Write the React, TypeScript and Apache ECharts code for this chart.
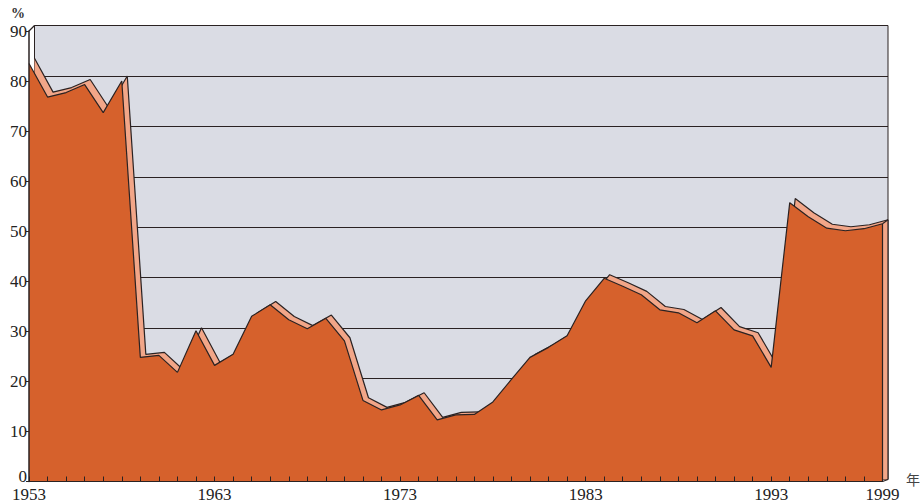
import React, { useEffect, useRef } from "react";
import * as echarts from "echarts";

const years = [
  "1953", "1954", "1955", "1956", "1957", "1958", "1959", "1960", "1961", "1962",
  "1963", "1964", "1965", "1966", "1967", "1968", "1969", "1970", "1971", "1972",
  "1973", "1974", "1975", "1976", "1977", "1978", "1979", "1980", "1981", "1982",
  "1983", "1984", "1985", "1986", "1987", "1988", "1989", "1990", "1991", "1992",
  "1993", "1994", "1995", "1996", "1997", "1998", "1999",
];

const shares = [
  83.5, 76.8, 77.7, 79.3, 73.7, 80.0, 24.8, 25.2, 21.8, 30.1,
  23.2, 25.4, 33.0, 35.3, 32.3, 30.5, 32.6, 28.1, 16.2, 14.3,
  15.3, 17.2, 12.3, 13.3, 13.4, 15.9, 20.4, 24.8, 26.8, 29.1,
  36.1, 40.6, 39.0, 37.3, 34.3, 33.7, 31.7, 34.1, 30.3, 29.1,
  22.8, 55.7, 52.9, 50.6, 50.1, 50.5, 51.5,
];

const shownYearLabels = ["1953", "1963", "1973", "1983", "1993", "1999"];
const yMin = 0;
const yMax = 90;
const yStep = 10;

const FONT = '"Liberation Serif", "DejaVu Serif", serif';
const ORANGE = "#d6612c";
const PINK = "#f2a688";
const WALL = "#dadce4";
const INK = "#2a2222";

const FRONT = { left: 29, top: 31, width: 853.5, height: 454 };
const DX = 5.5;
const DY = -5.5;

export default function App() {
  const ref = useRef<HTMLDivElement>(null);

  useEffect(() => {
    document.body.style.margin = "0";
    const el = ref.current;
    if (!el) return;
    const chart = echarts.init(el, undefined, { renderer: "svg" });

    const option: any = {
      animation: false,
      backgroundColor: "#ffffff",
      grid: [
        {
          left: FRONT.left,
          top: FRONT.top,
          width: FRONT.width,
          height: FRONT.height,
          show: false,
        },
        {
          left: FRONT.left + DX,
          top: FRONT.top + DY,
          width: FRONT.width,
          height: FRONT.height,
          show: true,
          backgroundColor: WALL,
          borderColor: INK,
          borderWidth: 1,
        },
      ],
      xAxis: [
        {
          type: "category",
          gridIndex: 0,
          data: years,
          boundaryGap: false,
          z: 10,
          axisLine: { show: true, lineStyle: { color: INK, width: 1.2 } },
          axisTick: {
            show: true,
            inside: true,
            length: 5,
            interval: 0,
            lineStyle: { color: INK, width: 1 },
          },
          axisLabel: {
            interval: 0,
            hideOverlap: false,
            formatter: (v: string) => (shownYearLabels.includes(v) ? v : ""),
            fontFamily: FONT,
            fontSize: 17,
            lineHeight: 12,
            color: "#222",
            margin: 7,
          },
          splitLine: { show: false },
        },
        {
          type: "category",
          gridIndex: 1,
          data: years,
          boundaryGap: false,
          show: false,
        },
      ],
      yAxis: [
        {
          type: "value",
          gridIndex: 0,
          min: yMin,
          max: yMax,
          interval: yStep,
          z: 10,
          axisLine: { show: true, lineStyle: { color: INK, width: 1.5 } },
          axisTick: { show: true, inside: false, length: 3, lineStyle: { color: INK } },
          axisLabel: {
            fontFamily: FONT,
            fontSize: 17,
            lineHeight: 10,
            color: "#222",
            margin: 2,
            formatter: (v: number) => (v === yMin ? "{z|" + v + "}" : String(v)),
            rich: {
              z: { fontFamily: FONT, fontSize: 17, lineHeight: 10, color: "#222", padding: [0, 0, 10, 0] },
            },
          },
          splitLine: { show: false },
        },
        {
          type: "value",
          gridIndex: 1,
          min: yMin,
          max: yMax,
          interval: yStep,
          axisLine: { show: false },
          axisTick: { show: false },
          axisLabel: { show: false },
          splitLine: { show: true, lineStyle: { color: INK, width: 1 } },
        },
      ],
      series: [
        {
          type: "line",
          xAxisIndex: 1,
          yAxisIndex: 1,
          data: shares,
          symbol: "none",
          lineStyle: { color: INK, width: 1.2 },
          areaStyle: { color: PINK, opacity: 1 },
          z: 2,
        },
        {
          type: "line",
          xAxisIndex: 0,
          yAxisIndex: 0,
          data: shares,
          symbol: "none",
          lineStyle: { color: INK, width: 1.2 },
          areaStyle: { color: ORANGE, opacity: 1 },
          z: 3,
        },
      ],
    };
    chart.setOption(option);

    const last = years.length - 1;
    const fTop = chart.convertToPixel({ gridIndex: 0 }, [last, shares[last]]) as number[];
    const fBot = chart.convertToPixel({ gridIndex: 0 }, [last, yMin]) as number[];
    const bTop = chart.convertToPixel({ gridIndex: 1 }, [last, shares[last]]) as number[];
    const bBot = chart.convertToPixel({ gridIndex: 1 }, [last, yMin]) as number[];
    const fAxisTop = chart.convertToPixel({ gridIndex: 0 }, [0, yMax]) as number[];
    const bAxisTop = chart.convertToPixel({ gridIndex: 1 }, [0, yMax]) as number[];

    const ls = { stroke: INK, lineWidth: 1.2 };
    chart.setOption({
      graphic: [
        { type: "line", z: 20, shape: { x1: fTop[0], y1: fTop[1], x2: fBot[0], y2: fBot[1] }, style: ls },
        { type: "line", z: 20, shape: { x1: bTop[0], y1: bTop[1], x2: bBot[0], y2: bBot[1] }, style: ls },
        { type: "line", z: 20, shape: { x1: fBot[0], y1: fBot[1], x2: bBot[0], y2: bBot[1] }, style: ls },
        { type: "line", z: 20, shape: { x1: fTop[0], y1: fTop[1], x2: bTop[0], y2: bTop[1] }, style: ls },
        { type: "line", z: 20, shape: { x1: fAxisTop[0], y1: fAxisTop[1], x2: bAxisTop[0], y2: bAxisTop[1] }, style: ls },
        {
          type: "text",
          left: 11,
          top: 6,
          style: { text: "%", fontFamily: FONT, fontSize: 14, fontWeight: "bold", fill: "#333" },
        },
        {
          type: "text",
          left: 906,
          top: 472,
          style: { text: "年", fontFamily: '"Noto Sans CJK SC", sans-serif', fontSize: 14, fill: "#444" },
        },
      ],
    });

    return () => chart.dispose();
  }, []);

  return <div ref={ref} style={{ width: 923, height: 503 }} />;
}
